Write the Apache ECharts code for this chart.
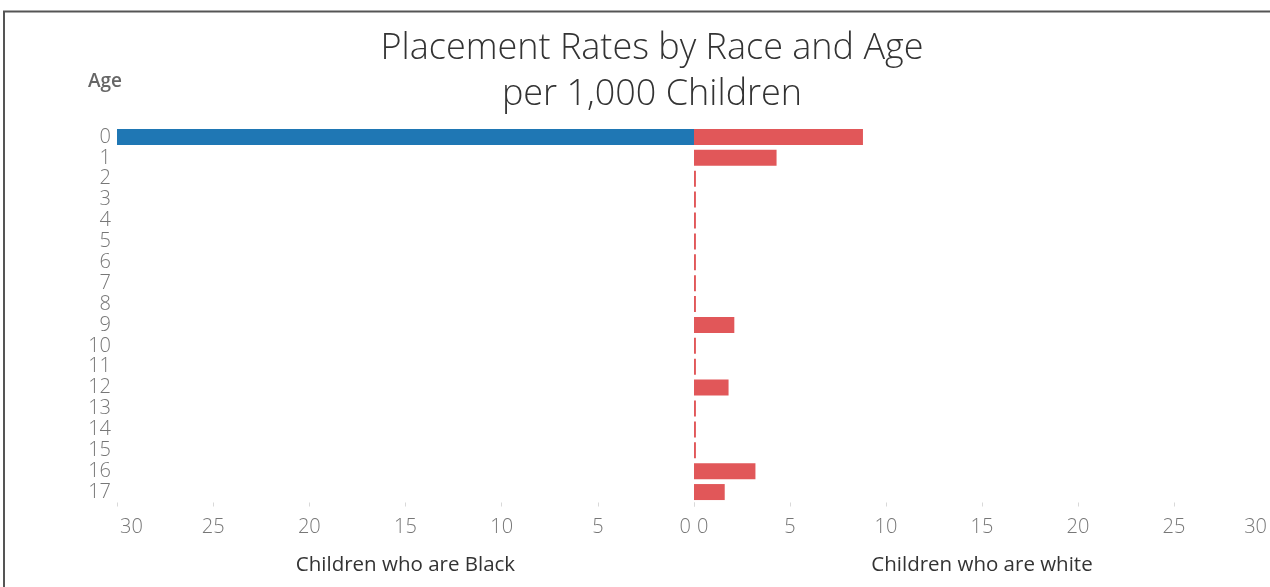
<!DOCTYPE html>
<html><head><meta charset="utf-8">
<script src="https://cdn.jsdelivr.net/npm/echarts@6/dist/echarts.min.js"></script>
<style>html,body{margin:0;padding:0;background:#fff}#c{width:1270px;height:587px}</style>
</head><body><div id="c"></div>
<script>
const ages = ['0','1','2','3','4','5','6','7','8','9','10','11','12','13','14','15','16','17'];
const blackRates = [30.5,0,0,0,0,0,0,0,0,0,0,0,0,0,0,0,0,0];
const whiteRates = [8.8,4.3,0.1,0.1,0.1,0.1,0.1,0.1,0.1,2.1,0.1,0.1,1.8,0.1,0.1,0.1,3.2,1.6];
const titleLines = ['Placement Rates by Race and Age', 'per 1,000 Children'];
const leftName = 'Children who are Black';
const rightName = 'Children who are white';

const FONT = '"Open Sans", "Noto Sans", sans-serif';
const chart = echarts.init(document.getElementById('c'));
const gridTop = 126.5, gridH = 376;
const xCommon = {
  type: 'value', min: 0, max: 30, interval: 5,
  splitLine: {show: false},
  axisLine: {show: false},
  axisTick: {show: true, length: 4, lineStyle: {color: '#d9d9d9'}},
  nameLocation: 'middle', nameGap: 52,
  nameTextStyle: {fontFamily: FONT, fontSize: 20.5, color: '#333'}
};
chart.setOption({
  animation: false,
  title: {
    text: titleLines.join('\n'), left: 647, top: 21, textAlign: 'center',
    textStyle: {fontFamily: FONT, fontWeight: 300, fontSize: 36, color: '#333', lineHeight: 46}
  },
  graphic: [
    {type: 'rect', shape: {x: 4, y: 11.5, width: 1400, height: 700}, style: {fill: 'none', stroke: '#555', lineWidth: 2}, silent: true},
    {type: 'text', left: 88, top: 72, style: {text: 'Age', fontFamily: FONT, fontWeight: 600, fontSize: 19, fill: '#666'}}
  ],
  grid: [
    {left: 117, top: gridTop, width: 577, height: gridH},
    {left: 694, top: gridTop, width: 576, height: gridH}
  ],
  xAxis: [
    Object.assign({}, xCommon, {gridIndex: 0, inverse: true, name: leftName,
      axisLabel: {fontFamily: FONT, fontWeight: 300, fontSize: 20, color: '#777', margin: 15, alignMinLabel: 'right', alignMaxLabel: 'left', padding: [0, 3, 0, 3]}}),
    Object.assign({}, xCommon, {gridIndex: 1, name: rightName,
      axisLabel: {fontFamily: FONT, fontWeight: 300, fontSize: 20, color: '#777', margin: 15, alignMinLabel: 'left', alignMaxLabel: 'right', padding: [0, 3, 0, 3]}})
  ],
  yAxis: [
    {type: 'category', gridIndex: 0, data: ages, inverse: true,
      axisLine: {show: false}, axisTick: {show: false},
      axisLabel: {interval: 0, fontFamily: FONT, fontWeight: 300, fontSize: 20, color: '#777', margin: 6, lineHeight: 20}},
    {type: 'category', gridIndex: 1, data: ages, inverse: true, show: false}
  ],
  series: [
    {type: 'bar', xAxisIndex: 0, yAxisIndex: 0, data: blackRates, barWidth: 16, itemStyle: {color: '#1f77b4'}, clip: true},
    {type: 'bar', xAxisIndex: 1, yAxisIndex: 1, data: whiteRates, barWidth: 16, itemStyle: {color: '#e15759'}, clip: true}
  ]
});
</script></body></html>
